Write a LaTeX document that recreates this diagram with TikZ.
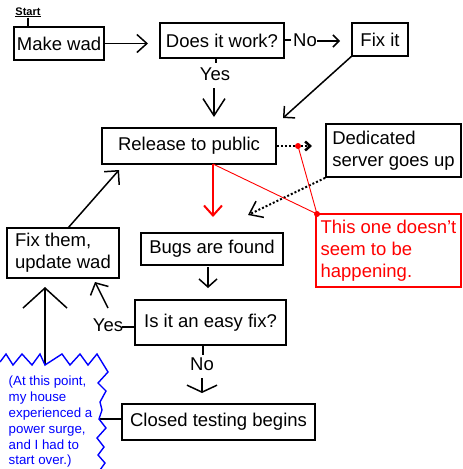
\documentclass[tikz,border=0pt]{standalone}
\usepackage{fontspec}
\setmainfont{Liberation Sans}
\usetikzlibrary{arrows.meta}
\definecolor{myred}{RGB}{255,0,0}
\definecolor{myblue}{RGB}{0,0,255}
\begin{document}
\begin{tikzpicture}[x=1pt,y=-1pt,line width=1.5pt,
  box/.style={draw,line width=1.8pt,inner sep=0pt,font=\fontsize{18.5}{22}\selectfont,align=center},
  lbl/.style={inner sep=0pt,font=\fontsize{18.5}{22}\selectfont},
  barb/.style 2 args={-{Straight Barb[length=#1pt,width=#2pt]}},
  dots/.style={line width=2pt,dash pattern=on 2pt off 2pt},
  redbox/.style={draw=myred,text=myred,line width=1.8pt,inner sep=0pt,font=\fontsize{18.5}{22}\selectfont,align=left},
  thinred/.style={draw=myred,line width=0.9pt},
  reddot/.style={circle,fill=myred,inner sep=0pt,minimum size=6pt}]
\useasboundingbox[fill=white] (0,0) rectangle (463,469);

% boxes
\node[box,minimum width=90pt,minimum height=33pt] (mw) at (59,43.5) {Make wad};
\node[box,minimum width=124pt,minimum height=35pt] (dw) at (222,40.5) {Does it work?};
\node[box,minimum width=56pt,minimum height=33pt] (fi) at (380,39.5) {Fix it};
\node[box,minimum width=174pt,minimum height=36pt] (rp) at (189,146) {Release to public};
\node[box,minimum width=135pt,minimum height=53pt,align=left] (ds) at (393.5,150.5) {Dedicated\\server goes up};
\node[redbox,minimum width=145pt,minimum height=73pt] (nb) at (388.5,250.5) {This one doesn't\\seem to be\\happening.};
\node[box,minimum width=112pt,minimum height=50pt,align=left] (ft) at (63,253) {Fix them,\\update wad};
\node[box,minimum width=142pt,minimum height=32pt] (bf) at (212,249) {Bugs are found};
\node[box,minimum width=151pt,minimum height=45pt] (ef) at (210.5,322.5) {Is it an easy fix?};
\node[box,minimum width=193pt,minimum height=36pt] (ct) at (218.5,422) {Closed testing begins};

% start label
\node[inner sep=0pt,anchor=base,font=\fontsize{11}{13}\selectfont\bfseries] (st) at (28,15) {\underline{Start}};
\coordinate (stb) at (28,17.5);
\draw (stb) -- (mw.north -| stb);

% labels
\node[lbl] (no1) at (305,40) {No};
\node[lbl] (yes1) at (215,74) {Yes};
\node[lbl] (yes2) at (108,325) {Yes};
\node[lbl] (no2) at (202,364) {No};

% coordinates for free ends
\coordinate (t1) at (148,43.5);
\coordinate (n1s) at (317,41);
\coordinate (n1e) at (340,41);
\coordinate (fs) at (353,55);
\coordinate (fe) at (283,118);
\coordinate (ys) at (214,88);
\coordinate (ye) at (214,117);
\coordinate (rs) at (213,164);
\coordinate (re) at (213,217);
\coordinate (de) at (312,146);
\coordinate (dd) at (248,215);
\coordinate (fts) at (68,228);
\coordinate (fte) at (119,170);
\coordinate (bs) at (208,267);
\coordinate (be) at (208,288);
\coordinate (y2s) at (108,308);
\coordinate (y2e) at (95,282);
\coordinate (bus) at (45,365);
\coordinate (bue) at (45,287);
\coordinate (n2s) at (202,378);
\coordinate (n2e) at (202,393);
\coordinate (zj) at (99,419);
\coordinate (nbc) at (317,214);

% connectors
\draw[barb={10}{18}] (mw) -- (t1);
\draw (dw.east |- no1) -- ++(6,0);
\draw[barb={6}{12}] (n1s) -- (n1e);
\draw[barb={8}{16}] (fs) -- (fe);
\draw (dw.south -| 216,0) -- ++(0,4);
\draw[barb={17}{22}] (ys) -- (ye);
\draw[barb={10}{20}] (fts) -- (fte);
\draw[barb={8}{18}] (bs) -- (be);
\draw (ef.west |- 0,327) -- ++(-12,0);
\draw[barb={9}{20}] (y2s) -- (y2e);
\draw (ef.south -| 203,0) -- ++(0,9);
\draw[barb={7}{30}] (n2s) -- (n2e);
\draw[barb={20}{44}] (bus) -- (bue);
\draw (ct.west |- zj) -- (zj);

% dotted connectors
\draw[dots,-{Straight Barb[length=5pt,width=9pt,line width=2.5pt]}] (rp.east) -- (de);
\draw[dots,-{Straight Barb[length=12pt,width=18pt,line width=1.5pt]}] (ds.south west) -- (dd);

% red
\draw[myred,line width=2pt,barb={10}{18}] (rs) -- (re);
\draw[thinred] (rs) -- (nbc);
\node[reddot] (rd1) at (298,146) {};
\node[reddot] (rd2) at (nbc) {};
\draw[thinred] (rd1.center) -- (rd2.center);

% zigzag
\draw[myblue,line width=1.4pt,line join=miter] (0,362) -- (6,354) -- (13,365) -- (22,354) -- (32,365) -- (40,354) -- (45,365) -- (62,354) -- (70,365) -- (80,354) -- (88,365) -- (97,354)
 -- (108,372) -- (98,383) -- (106,391) -- (100,402) -- (102,410) -- (zj) -- (106,428) -- (97,438) -- (104,447) -- (98,455) -- (105,463) -- (100,470);

% blue note
\node[inner sep=0pt,anchor=north west,align=left,text=myblue,font=\fontsize{13.3}{15.8}\selectfont] (note) at (8,375.5) {(At this point,\\my house\\experienced a\\power surge,\\and I had to\\start over.)};
\end{tikzpicture}
\end{document}
